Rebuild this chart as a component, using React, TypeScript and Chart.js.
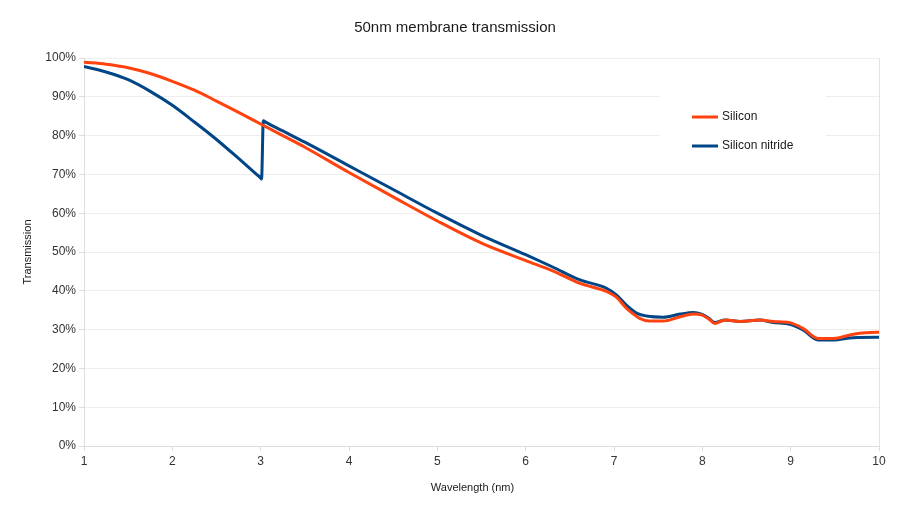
import React, { useEffect, useRef } from "react";
import { Chart, registerables } from "chart.js";

Chart.register(...registerables);

const chartTitle = "50nm membrane transmission";
const xAxisTitle = "Wavelength (nm)";
const yAxisTitle = "Transmission";

const siliconLabel = "Silicon";
const siliconX = [1, 1.25, 1.5, 1.75, 2, 2.25, 2.5, 2.75, 3, 3.25, 3.5, 4, 4.5, 5, 5.5, 6, 6.3, 6.615, 6.92, 7.03, 7.14, 7.22, 7.29, 7.4, 7.56, 7.75, 7.9, 7.99, 8.07, 8.14, 8.26, 8.43, 8.65, 8.8, 8.99, 9.14, 9.31, 9.48, 9.71, 9.97, 10];
const siliconY = [98.9, 98.4, 97.5, 96.0, 94.0, 91.7, 88.9, 86.0, 83.0, 80.0, 77.0, 70.5, 64.2, 58.0, 52.3, 47.8, 45.2, 41.9, 39.8, 38.3, 35.5, 34.0, 32.9, 32.2, 32.2, 33.3, 34.0, 33.8, 32.8, 31.6, 32.5, 32.1, 32.5, 32.1, 31.8, 30.3, 27.7, 27.7, 28.8, 29.3, 29.3];

const nitrideLabel = "Silicon nitride";
const nitrideX = [1, 1.25, 1.5, 1.75, 2, 2.25, 2.5, 2.75, 2.95, 3.0, 3.01, 3.03, 3.06, 3.25, 3.5, 4, 4.5, 5, 5.5, 6, 6.3, 6.615, 6.92, 7.03, 7.14, 7.26, 7.37, 7.56, 7.75, 7.9, 7.99, 8.07, 8.14, 8.26, 8.43, 8.65, 8.8, 8.99, 9.14, 9.31, 9.48, 9.71, 9.97, 10];
const nitrideY = [97.8, 96.4, 94.4, 91.4, 87.8, 83.5, 79.0, 74.1, 70.1, 69.1, 68.8, 83.8, 83.4, 81.2, 78.3, 72.2, 66.1, 60.0, 54.3, 49.3, 46.2, 42.8, 40.6, 38.9, 36.3, 34.2, 33.5, 33.2, 34.0, 34.4, 34.0, 33.0, 31.8, 32.5, 32.1, 32.5, 31.8, 31.4, 29.9, 27.3, 27.3, 27.9, 28.0, 28.0];

const xMin = 1;
const xMax = 10;
const yMin = 0;
const yMax = 100;

const FONT = "'Liberation Sans', Arial, sans-serif";

const boxLegend = {
  id: "boxLegend",
  beforeDatasetsDraw(chart: any) {
    const { ctx, chartArea } = chart;
    ctx.save();
    // right border of plot area
    ctx.strokeStyle = "#e3e3e3";
    ctx.lineWidth = 1;
    ctx.beginPath();
    ctx.moveTo(Math.round(chartArea.right) + 0.5, chartArea.top);
    ctx.lineTo(Math.round(chartArea.right) + 0.5, chartArea.bottom);
    ctx.stroke();
    // legend box
    const bx = chartArea.right - 219;
    const by = chartArea.top + 30;
    ctx.fillStyle = "#ffffff";
    ctx.fillRect(bx, by, 166, 82);
    chart.data.datasets.forEach((ds: any, i: number) => {
      const y = chartArea.top + 59 + i * 29;
      ctx.strokeStyle = ds.borderColor;
      ctx.lineWidth = 3;
      ctx.beginPath();
      ctx.moveTo(chartArea.right - 187, y);
      ctx.lineTo(chartArea.right - 161, y);
      ctx.stroke();
      ctx.fillStyle = "#1a1a1a";
      ctx.font = `12px ${FONT}`;
      ctx.textBaseline = "middle";
      ctx.textAlign = "left";
      ctx.fillText(ds.label, chartArea.right - 157, y);
    });
    ctx.restore();
  },
  afterDraw(chart: any) {
    const { ctx, chartArea } = chart;
    ctx.save();
    ctx.fillStyle = "#1a1a1a";
    ctx.textAlign = "center";
    ctx.textBaseline = "middle";
    ctx.font = `15px ${FONT}`;
    ctx.fillText(chartTitle, chart.width / 2, 28);
    ctx.font = `11px ${FONT}`;
    ctx.fillText(xAxisTitle, (chartArea.left + chartArea.right) / 2 - 9, chart.height - 22);
    ctx.restore();
  },
};

export default function App() {
  const ref = useRef<HTMLCanvasElement>(null);
  useEffect(() => {
    document.body.style.margin = "0";
    const chart = new Chart(ref.current as HTMLCanvasElement, {
      type: "line",
      data: {
        datasets: [
          {
            label: siliconLabel,
            data: siliconX.map((x, i) => ({ x, y: siliconY[i] })),
            borderColor: "#ff420e",
            backgroundColor: "#ff420e",
            borderWidth: 3,
            pointRadius: 0,
            cubicInterpolationMode: "monotone",
          },
          {
            label: nitrideLabel,
            data: nitrideX.map((x, i) => ({ x, y: nitrideY[i] })),
            borderColor: "#004586",
            backgroundColor: "#004586",
            borderWidth: 3,
            pointRadius: 0,
            cubicInterpolationMode: "monotone",
          },
        ],
      },
      options: {
        responsive: false,
        animation: false,
        layout: { padding: { left: 0, right: 31, top: 58, bottom: 0 } },
        plugins: {
          legend: { display: false },
          tooltip: { enabled: false },
          title: { display: false, text: chartTitle },
        },
        scales: {
          x: {
            type: "linear",
            min: xMin,
            max: xMax,
            afterFit: (s: any) => {
              s.height = 64;
            },
            ticks: {
              stepSize: 1,
              color: "#333333",
              font: { size: 12, family: FONT },
              padding: 3,
              maxRotation: 0,
            },
            grid: {
              drawOnChartArea: false,
              drawTicks: true,
              tickLength: 5,
              tickColor: "#dddddd",
            },
            border: { display: true, color: "#dddddd" },
            title: { display: false, text: xAxisTitle },
          },
          y: {
            min: yMin,
            max: yMax,
            afterFit: (s: any) => {
              s.width = 84;
            },
            ticks: {
              stepSize: 10,
              color: "#333333",
              font: { size: 12, family: FONT },
              padding: 3,
              callback: (v: any) => `${v}%`,
            },
            grid: {
              color: "#eeeeee",
              tickLength: 5,
              tickColor: "#dddddd",
            },
            border: { display: true, color: "#dddddd" },
            title: {
              display: true,
              text: yAxisTitle,
              color: "#1a1a1a",
              font: { size: 11, family: FONT },
              padding: { top: 21, bottom: 0 },
            },
          },
        },
      },
      plugins: [boxLegend],
    });
    return () => chart.destroy();
  }, []);
  return <canvas ref={ref} width={910} height={510} style={{ display: "block" }} />;
}
